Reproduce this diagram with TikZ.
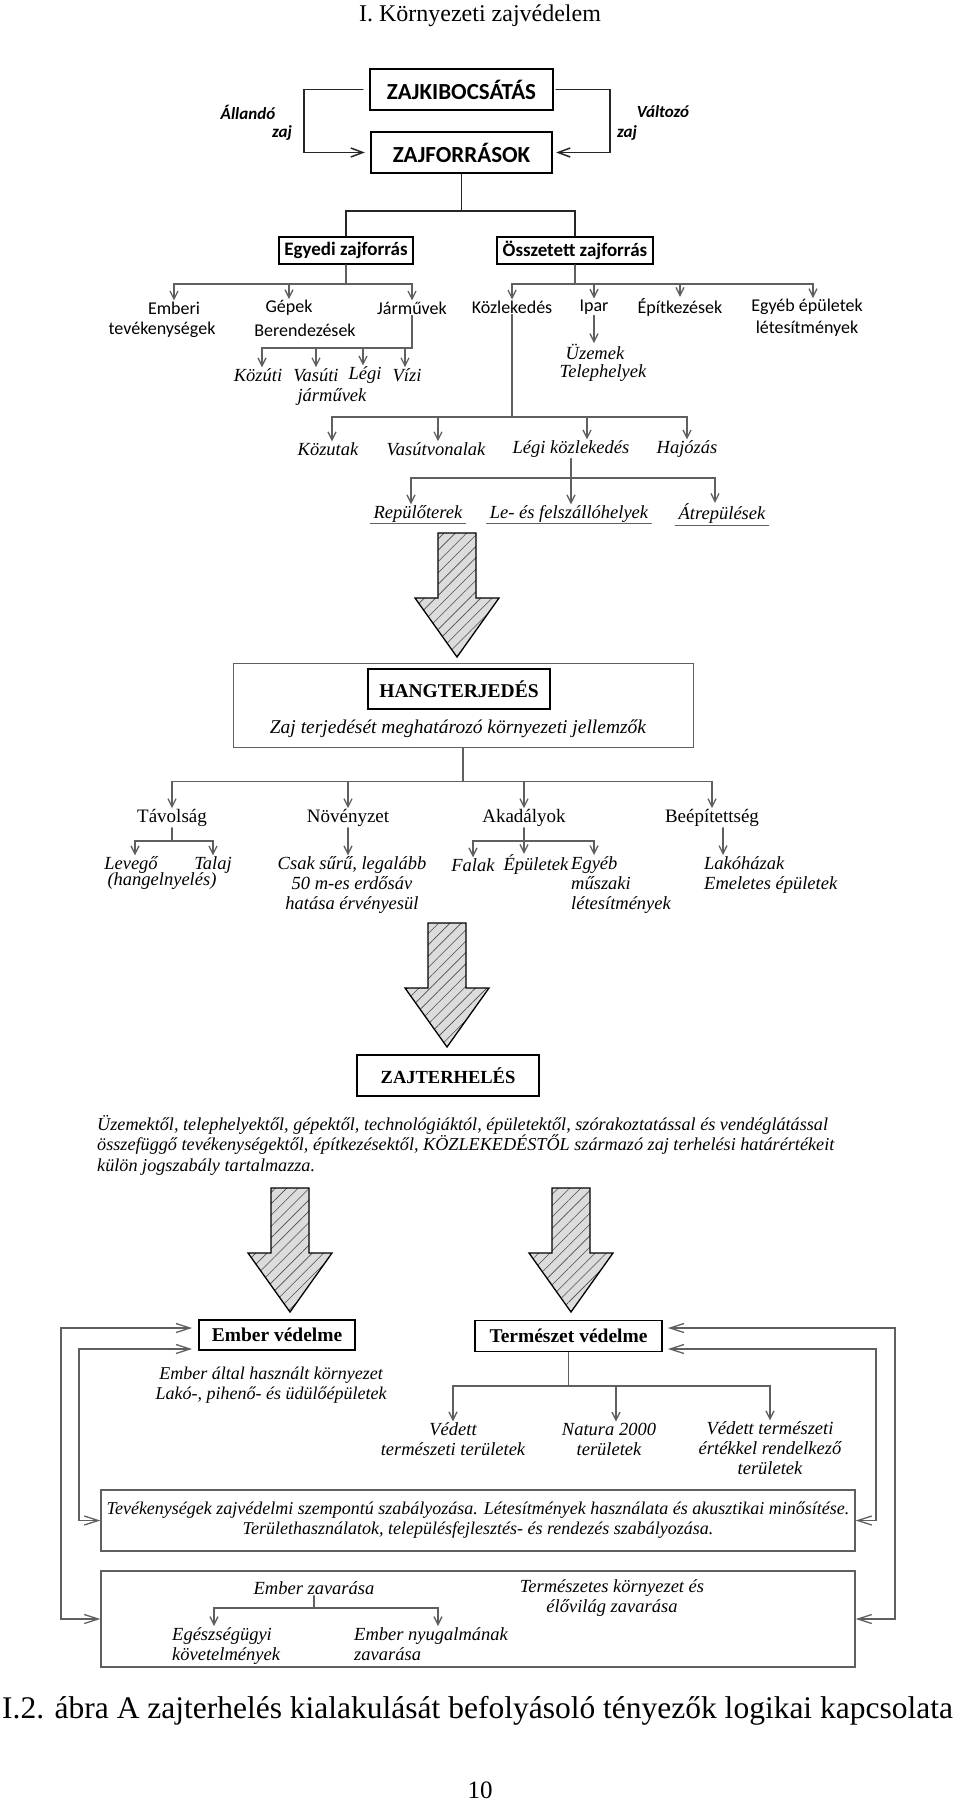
\documentclass[tikz,border=0pt]{standalone}
\usepackage{fontspec}
\setmainfont{Liberation Serif}
\newfontfamily\calib{Carlito}
\usepackage{tikz}
\usetikzlibrary{calc}
\usetikzlibrary{patterns,patterns.meta}
\usetikzlibrary{arrows.meta}
\definecolor{lgray}{RGB}{95,95,95}
\definecolor{hgray}{RGB}{220,220,220}
\newcommand{\fsz}[2]{\fontsize{#1}{#2}\selectfont}

\begin{document}
\begin{tikzpicture}[x=1pt,y=-1pt,line cap=round,>={Straight Barb[length=8pt,width=8pt]},
        conn/.style={draw=lgray,line width=1.3pt},
        tline/.style={draw=black!85,line width=1.5pt},
        loopl/.style={draw=lgray,line width=1.3pt,>={Straight Barb[length=14pt,width=9pt]}},
        topbox/.style={draw,line width=2.2pt,minimum width=183pt,minimum height=41pt,inner sep=0pt,font=\calib\bfseries\fsz{23}{27}},
        sbox/.style={draw,line width=1.8pt,minimum height=27pt,inner sep=0pt,font=\calib\bfseries\fsz{19}{22}},
        sideit/.style={inner sep=1pt,font=\calib\bfseries\itshape\fsz{17}{20}},
        slab/.style={inner sep=1pt,font=\calib\fsz{18}{22}},
        itlab/.style={inner sep=1pt,font=\itshape\fsz{18.5}{20}},
        uplab/.style={inner sep=1pt,font=\fsz{19}{22}},
        serifbox/.style={draw,line width=1.8pt,inner sep=0pt,font=\bfseries\fsz{19.5}{23}},
        ulined/.style={inner xsep=3pt,inner ysep=1pt},
        hatch/.style={draw=black,line width=1.3pt,preaction={fill=hgray},pattern={Lines[angle=45,distance=8pt,line width=0.6pt]},pattern color=black!70},
        capt/.style={inner sep=0pt,font=\fsz{31.5}{36}}]
        \useasboundingbox (0,0) rectangle (960,1803);

        \node[capt,font=\fsz{24}{28}] (fejlec) at (480,16) {I. Környezeti zajvédelem};

        \node[topbox] (kibocs) at (461.5,89.5) {ZAJKIBOCSÁTÁS};
        \node[topbox,minimum width=181pt] (forras) at (461.5,152.5) {ZAJFORRÁSOK};
        \node[sideit] (all1) at (248,112) {Állandó};
        \node[sideit] (all2) at (282,133) {zaj};
        \node[sideit] (valt1) at (663,112) {Változó};
        \node[sideit] (valt2) at (627,133) {zaj};
        \draw[tline,->,>={Straight Barb[length=12pt,width=9pt]},shorten <=6pt,shorten >=5pt] (kibocs.west) -- ++(-65,0) |- (forras.west);
        \draw[tline,->,>={Straight Barb[length=12pt,width=9pt]},shorten <=2pt,shorten >=3pt] (kibocs.east) -- ++(56,0) |- (forras.east);

        \node[sbox,minimum width=134pt] (egyedi) at (346,250.5) {Egyedi zajforrás};
        \node[sbox,minimum width=156pt] (osszet) at (575,250.5) {Összetett zajforrás};
        \draw[tline] (forras.south) -- ++(0,37) coordinate (fj);
        \draw[tline] (fj) -| (egyedi.north);
        \draw[tline] (fj) -| (osszet.north);

        \node[slab] (emberi) at (174,308) {Emberi};
        \node[slab] (tevek) at (162,330) {tevékenységek};
        \node[slab] (gepek) at (289,308) {Gépek};
        \node[slab] (berend) at (305,330) {Berendezések};
        \node[slab] (jarmu) at (412,308) {Járművek};
        \draw[conn] (egyedi.south) -- ++(0,19) coordinate (ej);
        \draw[conn,->] (ej) -| (emberi.north);
        \draw[conn,->] (ej) -| (gepek.north);
        \draw[conn,->] (ej) -| (jarmu.north);

        \node[itlab] (kozuti) at (258,375) {Közúti};
        \node[itlab] (vasuti) at (316,375) {Vasúti};
        \node[itlab] (legi) at (365,375) {Légi};
        \node[itlab] (vizi) at (407,375) {Vízi};
        \node[itlab] (jmuv) at (332,397) {járművek};
        \draw[conn] (jarmu.south) -- (jarmu.south |- 0,348) coordinate (jj);
        \draw[conn,->] (jj) -| ([xshift=4pt]kozuti.north);
        \draw[conn,->] (jj) -| (vasuti.north);
        \draw[conn,->] (jj) -| ([xshift=-2pt]legi.north);
        \draw[conn,->] (jj) -| ([xshift=-2pt]vizi.north);

        \node[slab] (kozlek) at (512,307) {Közlekedés};
        \node[slab] (ipar) at (594,307) {Ipar};
        \node[slab] (epitk) at (680,307) {Építkezések};
        \node[slab,align=center] (egyeb) at (807,318) {Egyéb épületek\\létesítmények};
        \draw[conn] (osszet.south) -- ++(0,19) coordinate (oj);
        \draw[conn,->] (oj) -| (kozlek.north);
        \draw[conn,->] (oj) -| (ipar.north);
        \draw[conn,->] (oj) -| (epitk.north);
        \draw[conn,->] (oj) -| ([xshift=6pt]egyeb.north);

        \node[itlab] (uzemek) at (595,352) {Üzemek};
        \node[itlab] (teleph) at (603,373) {Telephelyek};
        \draw[conn,->] (ipar.south) -- (ipar.south |- uzemek.north);

        \node[itlab] (kozutak) at (328,449) {Közutak};
        \node[itlab] (vasutv) at (436,449) {Vasútvonalak};
        \node[itlab] (legik) at (571,449) {Légi közlekedés};
        \node[itlab] (hajozas) at (687,449) {Hajózás};
        \draw[conn] (kozlek.south) -- (kozlek.south |- 0,417) coordinate (kj);
        \draw[conn,->] (kj) -| ([xshift=4pt]kozutak.north);
        \draw[conn,->] (kj) -| ([xshift=2pt]vasutv.north);
        \draw[conn,->] (kj) -| ([xshift=16pt]legik.north);
        \draw[conn,->] (kj) -| (hajozas.north);

        \node[itlab,ulined] (repul) at (418,514) {Repülőterek};
        \node[itlab,ulined] (lefel) at (569,514) {Le- és felszállóhelyek};
        \node[itlab,ulined] (atrep) at (722,514) {Átrepülések};
        \draw[conn] (legik.south) -- (legik.south |- 0,478) coordinate (lj);
        \draw[conn,->] (lj) -| ([xshift=-7pt]repul.north);
        \draw[conn,->] (lj) -- (lj |- lefel.north);
        \draw[conn,->] (lj) -| ([xshift=-7pt]atrep.north);
        \draw[conn,line width=1pt] (repul.south west) -- (repul.south east);
        \draw[conn,line width=1pt] (lefel.south west) -- (lefel.south east);
        \draw[conn,line width=1pt] (atrep.south west) -- (atrep.south east);

        \draw[hatch] (438,533) -- (476,533) -- (476,598) -- (499,598) -- (457,657) -- (415,598) -- (438,598) -- cycle;

        \node[draw=lgray,line width=1pt,minimum width=460pt,minimum height=84pt] (hangbox) at (463,705) {};
        \node[serifbox,minimum width=182pt,minimum height=40pt] (hangcim) at (459,689) {HANGTERJEDÉS};
        \node[itlab,font=\itshape\fsz{19.5}{22}] (hangsub) at (458,729) {Zaj terjedését meghatározó környezeti jellemzők};

        \node[uplab] (tavol) at (172,818) {Távolság};
        \node[uplab] (noveny) at (348,818) {Növényzet};
        \node[uplab] (akad) at (524,818) {Akadályok};
        \node[uplab] (beep) at (712,818) {Beépítettség};
        \draw[conn] (hangbox.south) -- ++(0,34) coordinate (hj);
        \draw[conn,->] (hj) -| (tavol.north);
        \draw[conn,->] (hj) -| (noveny.north);
        \draw[conn,->] (hj) -| (akad.north);
        \draw[conn,->] (hj) -| (beep.north);

        \node[itlab] (levego) at (131,865) {Levegő};
        \node[itlab] (talaj) at (213,865) {Talaj};
        \node[itlab] (hangel) at (162,881) {(hangelnyelés)};
        \draw[conn] (tavol.south) -- (tavol.south |- 0,841) coordinate (tj);
        \draw[conn,->] (tj) -| ([xshift=4pt]levego.north);
        \draw[conn,->] (tj) -| (talaj.north);

        \node[itlab,align=center] (csak) at (352,885) {Csak sűrű, legalább\\50 m-es erdősáv\\hatása érvényesül};
        \draw[conn,->] (noveny.south) -- (noveny.south |- csak.north);

        \node[itlab] (falak) at (473,865) {Falak};
        \node[itlab] (epul) at (536,865) {Épületek};
        \node[itlab,align=left,anchor=north west] (egyebm) at (570,855) {Egyéb\\műszaki\\létesítmények};
        \draw[conn] (akad.south) -- (akad.south |- 0,841) coordinate (aj);
        \draw[conn,->] (aj) -| (falak.north);
        \draw[conn,->] (aj) -- (aj |- epul.north);
        \draw[conn,->] (aj) -| ([xshift=24pt]egyebm.north west);

        \node[itlab,align=left,anchor=north west] (lako) at (703,855) {Lakóházak\\Emeletes épületek};
        \draw[conn,->] ([xshift=11pt]beep.south) -- ([xshift=20pt]lako.north west);

        \draw[hatch] (428,923) -- (466,923) -- (466,988) -- (489,988) -- (447,1047) -- (405,988) -- (428,988) -- cycle;

        \node[serifbox,minimum width=182pt,minimum height=41pt,font=\bfseries\fsz{18.5}{22}] (terh) at (448,1075.5) {ZAJTERHELÉS};
        \node[itlab,align=left,anchor=west,font=\itshape\fsz{18.2}{20.5}] (para) at (96,1145) {Üzemektől, telephelyektől, gépektől, technológiáktól, épületektől, szórakoztatással és vendéglátással\\összefüggő tevékenységektől, építkezésektől, KÖZLEKEDÉSTŐL származó zaj terhelési határértékeit\\külön jogszabály tartalmazza.};

        \draw[hatch] (271,1188) -- (309,1188) -- (309,1253) -- (332,1253) -- (290,1312) -- (248,1253) -- (271,1253) -- cycle;
        \draw[hatch] (552,1188) -- (590,1188) -- (590,1253) -- (613,1253) -- (571,1312) -- (529,1253) -- (552,1253) -- cycle;

        \node[serifbox,minimum width=156pt,minimum height=30pt] (evedel) at (277,1335) {Ember védelme};
        \node[serifbox,minimum width=187pt,minimum height=31pt] (tvedel) at (568.5,1336) {Természet védelme};
        \node[itlab,align=center,font=\itshape\fsz{18}{19.5}] (ehaszn) at (271,1385) {Ember által használt környezet\\Lakó-, pihenő- és üdülőépületek};

        \node[itlab,align=center] (vedett) at (453,1439) {Védett\\természeti területek};
        \node[itlab,align=center] (natura) at (609,1439) {Natura 2000\\területek};
        \node[itlab,align=center] (vedert) at (770,1448) {Védett természeti\\értékkel rendelkező\\területek};
        \draw[conn] (tvedel.south) -- (tvedel.south |- 0,1386) coordinate (vj);
        \draw[conn,->] (vj) -| (vedett.north);
        \draw[conn,->] (vj) -| ([xshift=7pt]natura.north);
        \draw[conn,->] (vj) -| (vedert.north);

        \node[draw=lgray,line width=1.3pt,minimum width=754pt,minimum height=61pt,align=center,font=\itshape\fsz{18}{20}] (szabaly) at (478,1520.5) {Tevékenységek zajvédelmi szempontú szabályozása. Létesítmények használata és akusztikai minősítése.\\Területhasználatok, településfejlesztés- és rendezés szabályozása.};
        \node[draw=lgray,line width=1.3pt,minimum width=754pt,minimum height=96pt] (zavar) at (478,1619) {};
        \node[itlab] (emzav) at (314,1588) {Ember zavarása};
        \node[itlab,align=left,anchor=north west] (egesz) at (171,1626) {Egészségügyi\\követelmények};
        \node[itlab,align=left,anchor=north west] (nyug) at (353,1626) {Ember nyugalmának\\zavarása};
        \node[itlab,align=center] (termzav) at (612,1598) {Természetes környezet és\\élővilág zavarása};
        \draw[conn] (emzav.south) -- (emzav.south |- 0,1608) coordinate (zj);
        \draw[conn,->] (zj) -| ([xshift=43pt]egesz.north west);
        \draw[conn,->] (zj) -| ([xshift=85pt]nyug.north west);

        \coordinate (lo) at (61,0);
        \coordinate (li) at (79,0);
        \coordinate (ro) at (895,0);
        \coordinate (ri) at (876,0);
        \draw[loopl,<->] ([xshift=-6pt,yshift=7pt]evedel.west) -| (lo |- zavar.west) -- (zavar.west);
        \draw[loopl,<->] ([xshift=-6pt,yshift=-14pt]evedel.west) -| (li |- szabaly.west) -- (szabaly.west);
        \draw[loopl,<->] ([xshift=5pt,yshift=8pt]tvedel.east) -| (ro |- zavar.east) -- (zavar.east);
        \draw[loopl,<->] ([xshift=5pt,yshift=-13pt]tvedel.east) -| (ri |- szabaly.east) -- (szabaly.east);

        \node[capt,anchor=west] (abra) at (2,1711) {I.2. ábra A zajterhelés kialakulását befolyásoló tényezők logikai kapcsolata};
        \node[capt,font=\fsz{25}{28}] (oldal) at (480,1790) {10};
\end{tikzpicture}
\end{document}
